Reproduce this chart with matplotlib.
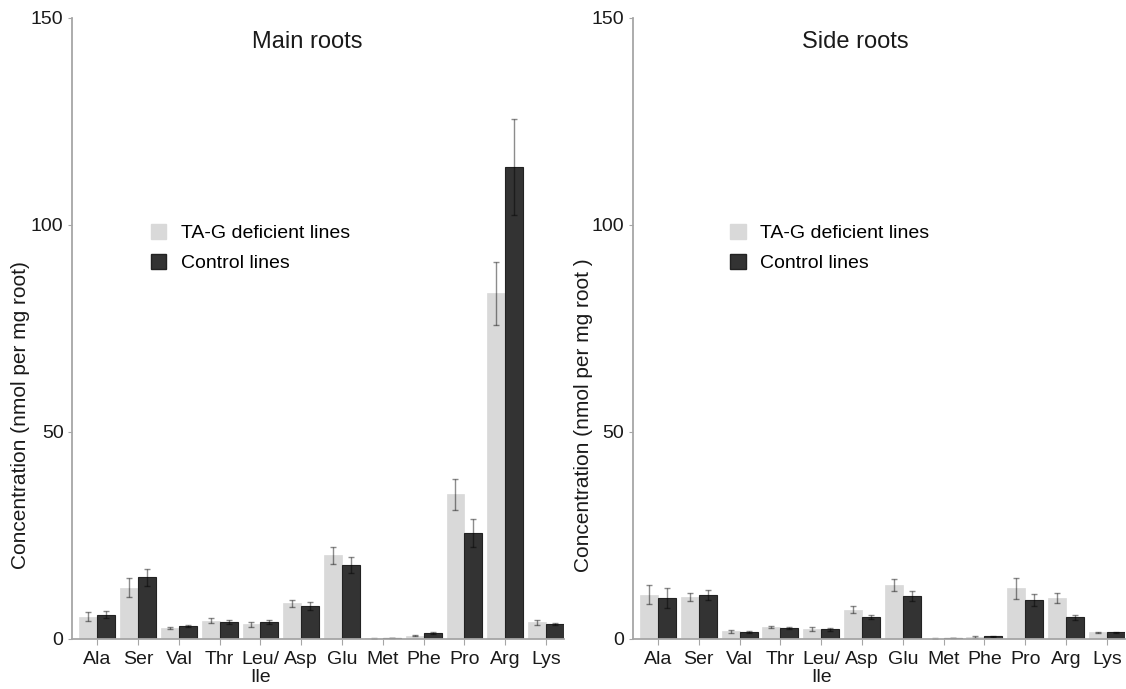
import matplotlib
matplotlib.use('Agg')
import matplotlib.pyplot as plt
from matplotlib.patches import Patch
import numpy as np

plt.rcParams['font.family'] = ['Liberation Sans', 'DejaVu Sans']

amino = ['Ala', 'Ser', 'Val', 'Thr', 'Leu/\nIle', 'Asp', 'Glu', 'Met', 'Phe', 'Pro', 'Arg', 'Lys']

# main roots (nmol per mg root), mean and error
main_tag = [5.4, 12.4, 2.6, 4.4, 3.5, 8.6, 20.2, 0.15, 0.8, 34.9, 83.5, 4.0]
main_tag_err = [1.1, 2.3, 0.3, 0.6, 0.6, 0.9, 2.0, 0.1, 0.2, 3.7, 7.6, 0.6]
main_ctrl = [5.9, 14.9, 3.1, 4.1, 4.2, 8.0, 17.9, 0.3, 1.45, 25.6, 114.0, 3.6]
main_ctrl_err = [0.9, 2.0, 0.3, 0.5, 0.5, 1.0, 2.0, 0.05, 0.15, 3.4, 11.6, 0.3]

# side roots
side_tag = [10.7, 10.1, 1.85, 2.9, 2.4, 7.1, 13.0, 0.1, 0.4, 12.2, 9.8, 1.6]
side_tag_err = [2.3, 1.0, 0.3, 0.3, 0.5, 0.8, 1.5, 0.05, 0.2, 2.5, 1.2, 0.2]
side_ctrl = [9.9, 10.7, 1.7, 2.7, 2.3, 5.3, 10.3, 0.3, 0.6, 9.4, 5.2, 1.6]
side_ctrl_err = [2.3, 1.2, 0.2, 0.3, 0.3, 0.5, 1.2, 0.05, 0.1, 1.5, 0.6, 0.2]

light = '#d9d9d9'
dark = '#333333'
axis_grey = '#a6a6a6'
w = 0.44

fig = plt.figure(figsize=(11.26, 6.89), dpi=100)
ax1 = fig.add_axes([0.0639, 0.0726, 0.437, 0.9013])
ax2 = fig.add_axes([0.5619, 0.0726, 0.437, 0.9013])

panels = [
    (ax1, main_tag, main_tag_err, main_ctrl, main_ctrl_err, 'Main roots', 0.478,
     'Concentration (nmol per mg root)', -0.085, 0.16),
    (ax2, side_tag, side_tag_err, side_ctrl, side_ctrl_err, 'Side roots', 0.452,
     'Concentration (nmol per mg root )', -0.081, 0.198),
]

x = np.arange(len(amino))
for ax, tag, tag_err, ctrl, ctrl_err, title, tx, ylab, yx, lx in panels:
    ax.bar(x - w / 2, tag, w, color=light, edgecolor=light, linewidth=0.5)
    ax.bar(x + w / 2, ctrl, w, color=dark, edgecolor='#222222', linewidth=0.8)
    ax.errorbar(x - w / 2, tag, yerr=tag_err, fmt='none', ecolor='black', alpha=0.45,
                elinewidth=1, capsize=2.5, capthick=1)
    ax.errorbar(x + w / 2, ctrl, yerr=ctrl_err, fmt='none', ecolor='black', alpha=0.45,
                elinewidth=1, capsize=2.5, capthick=1)

    ax.set_xlim(-0.62, 11.44)
    ax.set_ylim(0, 150)
    ax.set_yticks([0, 50, 100, 150])
    ax.set_xticks(x)
    ax.set_xticklabels(amino, linespacing=1.1)
    ax.tick_params(axis='both', colors=axis_grey, labelcolor='#1a1a1a', labelsize=14)
    ax.tick_params(axis='x', length=4, pad=4.5)
    ax.tick_params(axis='y', length=3, pad=3)
    for s in ['top', 'right']:
        ax.spines[s].set_visible(False)
    for s in ['left', 'bottom']:
        ax.spines[s].set_color(axis_grey)
        ax.spines[s].set_linewidth(1.3)

    ax.text(tx, 0.961, title, transform=ax.transAxes, ha='center', va='center',
            fontsize=17, color='#1a1a1a')
    ax.set_ylabel(ylab, fontsize=15, color='#1a1a1a')
    ax.yaxis.set_label_coords(yx, 0.36)

    handles = [Patch(facecolor=light, edgecolor=light), Patch(facecolor=dark, edgecolor='#222222')]
    ax.legend(handles, ['TA-G deficient lines', 'Control lines'], loc='upper left',
              bbox_to_anchor=(lx, 0.668), frameon=False, fontsize=14,
              handlelength=0.8, handleheight=0.8, handletextpad=0.75,
              labelspacing=0.6, borderpad=0, borderaxespad=0)

fig.savefig('out.png', dpi=100)
